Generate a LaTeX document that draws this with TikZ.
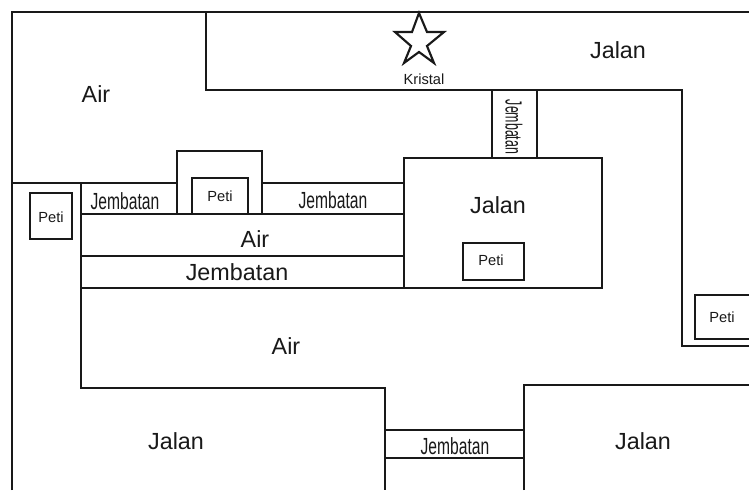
\documentclass[tikz,border=0pt]{standalone}
\usepackage{fontspec}
\usepackage{graphicx}
\setmainfont{Liberation Sans}
\newcommand{\narrowtext}[2][0.67]{\scalebox{#1}[1]{#2}}
\tikzset{
  wall/.style={line width=1.6pt,line join=miter,color=black!90},
  bigtext/.style={font=\fontsize{17.5}{20}\selectfont,inner sep=0pt,color=black!90},
  smalltext/.style={font=\fontsize{11}{13}\selectfont,inner sep=0pt,color=black!90}
}
\begin{document}
\begin{tikzpicture}[x=0.75pt,y=-0.75pt]
\useasboundingbox (0,0) rectangle (749,490);

\draw[wall] (12,490) -- (12,12) -- (749,12);
\draw[wall] (206,12) -- (206,90) -- (682,90) -- (682,346) -- (749,346);
\draw[wall] (12,183) -- (177,183);
\draw[wall] (263,183) -- (404,183);
\draw[wall] (81,183) -- (81,388) -- (385,388) -- (385,490);
\draw[wall] (524,490) -- (524,385) -- (749,385);
\draw[wall] (385,430) -- (524,430);
\draw[wall] (385,458) -- (524,458);

\draw[wall] (492,90) -- (492,158);
\draw[wall] (537,90) -- (537,158);
\draw[wall] (404,158) rectangle (602,288);
\draw[wall] (81,288) -- (404,288);
\draw[wall] (81,256) -- (404,256);
\draw[wall] (81,214) -- (404,214);

\draw[wall] (177,214) -- (177,151) -- (262,151) -- (262,214);
\draw[wall] (192,214) -- (192,178) -- (248,178) -- (248,214);
\draw[wall] (30,193) rectangle (72,239);
\draw[wall] (463,243) rectangle (524,280);
\draw[wall] (749,295) -- (695,295) -- (695,339) -- (749,339);

\draw[wall] (419,13) -- (427,32) -- (444,32) -- (427,46) -- (434,63)
  -- (419,52) -- (404,63) -- (411,46) -- (395,32) -- (412,32) -- cycle;

\node[bigtext] (airtop) at (96,94) {Air};
\node[bigtext] (jalantop) at (618,50) {Jalan};
\node[smalltext] (kristal) at (424,79) {Kristal};
\node[bigtext] (jalanbox) at (498,205) {Jalan};
\node[bigtext] (airmid) at (255,239) {Air};
\node[bigtext] (jembatanlong) at (237,272) {Jembatan};
\node[bigtext] (airlow) at (286,346) {Air};
\node[bigtext] (jalanleft) at (176,441) {Jalan};
\node[bigtext] (jalanright) at (643,441) {Jalan};

\node[bigtext] (jembatanleft) at (125,201) {\narrowtext{Jembatan}};
\node[bigtext] (jembatanmid) at (333,200) {\narrowtext{Jembatan}};
\node[bigtext] (jembatanlow) at (455,446) {\narrowtext{Jembatan}};
\node[bigtext,rotate=-90] (jembatanup) at (514,127) {\narrowtext[0.53]{Jembatan}};

\node[smalltext] (petileft) at (51,217) {Peti};
\node[smalltext] (petihut) at (220,196) {Peti};
\node[smalltext] (petibox) at (491,260) {Peti};
\node[smalltext] (petiright) at (722,317) {Peti};
\end{tikzpicture}
\end{document}
